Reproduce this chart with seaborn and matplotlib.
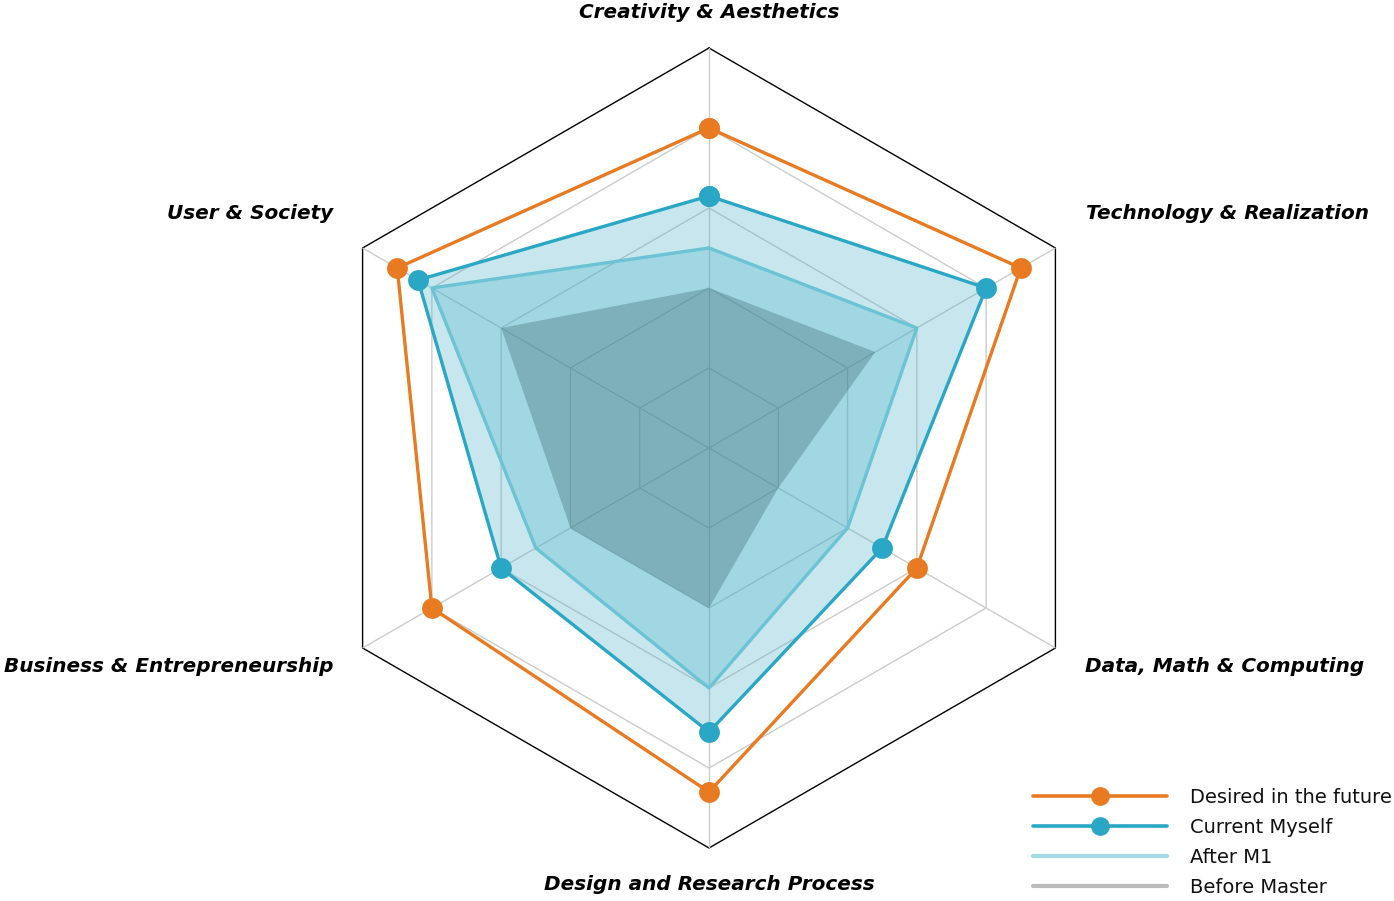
import numpy as np
import pandas as pd
import matplotlib
matplotlib.use("Agg")
import matplotlib.pyplot as plt
from matplotlib.lines import Line2D
import seaborn as sns

categories = ["Creativity & Aesthetics", "Technology & Realization", "Data, Math & Computing",
              "Design and Research Process", "Business & Entrepreneurship", "User & Society"]
desired = [4.0, 4.5, 3.0, 4.3, 4.0, 4.5]
current = [3.15, 4.0, 2.5, 3.55, 3.0, 4.2]
after_m1 = [2.5, 3.0, 2.0, 3.0, 2.5, 4.0]
before_master = [2.0, 2.4, 1.0, 2.0, 2.0, 3.0]
series_names = ["Desired in the future", "Current Myself", "After M1", "Before Master"]
levels = [1, 2, 3, 4, 5]

sns.set_theme(style="white")
plt.rcParams['font.family'] = ['DejaVu Sans']
plt.rcParams['text.color'] = '#111111'

W, H = 1394, 901
fig = plt.figure(figsize=(W / 100, H / 100), dpi=100)
cx, cy, R = 709, 448, 400
ax = fig.add_axes([(cx - R) / W, (H - cy - R) / H, 2 * R / W, 2 * R / H], projection='polar')
ax.set_theta_offset(np.pi / 2)
ax.set_theta_direction(-1)
ax.set_ylim(0, 5)
ax.set_axis_off()

n = len(categories)
angles = np.arange(n) * 2 * np.pi / n
ang_c = np.append(angles, angles[0])

def close(v):
    return np.append(v, v[0])

# grid
for lv in levels:
    ax.plot(ang_c, [lv] * (n + 1), color='black' if lv == levels[-1] else '#cccccc',
            lw=1.0, zorder=1, clip_on=False)
for a in angles:
    ax.plot([a, a], [0, levels[-1]], color='#cccccc', lw=1.0, zorder=1)

# fills
ax.fill(ang_c, close(current), color='#4BAFC6', alpha=0.3, lw=0, zorder=2)
ax.fill(ang_c, close(after_m1), color='#47B5C9', alpha=0.3, lw=0, zorder=2)
ax.fill(ang_c, close(before_master), color='#2D5964', alpha=0.3, lw=0, zorder=2)

# lines
df_after = pd.DataFrame({"theta": ang_c, "r": close(after_m1)})
sns.lineplot(data=df_after, x="theta", y="r", sort=False, estimator=None, color='#6cc3d5',
             lw=2.4, ax=ax, zorder=3, legend=False)
df_cur = pd.DataFrame({"theta": ang_c, "r": close(current)})
sns.lineplot(data=df_cur, x="theta", y="r", sort=False, estimator=None, color='#2aa7c4',
             lw=2.4, marker='o', markersize=15, markeredgewidth=0, ax=ax, zorder=4, legend=False)
df_des = pd.DataFrame({"theta": ang_c, "r": close(desired)})
sns.lineplot(data=df_des, x="theta", y="r", sort=False, estimator=None, color='#e87a22',
             lw=2.4, marker='o', markersize=15, markeredgewidth=0, ax=ax, zorder=5, legend=False)
ax.set_xlabel("")
ax.set_ylabel("")
ax.set_axis_off()

# labels
lab_font = dict(fontsize=14.4, fontweight='bold', fontstyle='italic', color='black')
def px(x, y):
    return x / W, 1 - y / H
fig.text(*px(709, 12), categories[0], ha='center', va='center', **lab_font)
fig.text(*px(1086, 213), categories[1], ha='left', va='center', **lab_font)
fig.text(*px(1085, 666), categories[2], ha='left', va='center', **lab_font)
fig.text(*px(709, 885), categories[3], ha='center', va='center', **lab_font)
fig.text(*px(333, 666), categories[4], ha='right', va='center', **lab_font)
fig.text(*px(333, 213), categories[5], ha='right', va='center', **lab_font)

handles = [
    Line2D([], [], color='#e87a22', lw=2.6, marker='o', markersize=13.5, markeredgewidth=0),
    Line2D([], [], color='#2aa7c4', lw=2.6, marker='o', markersize=13.5, markeredgewidth=0),
    Line2D([], [], color='#a3d9e3', lw=3),
    Line2D([], [], color='#bbbbbb', lw=3),
]
leg = fig.legend(handles, series_names, loc='upper left', bbox_to_anchor=px(1033, 788),
                 frameon=False, fontsize=14, handlelength=6.9, handletextpad=1.2,
                 labelspacing=0.56, borderpad=0, borderaxespad=0)
for t in leg.get_texts():
    t.set_color('#111111')

fig.savefig("out.png", dpi=100)
